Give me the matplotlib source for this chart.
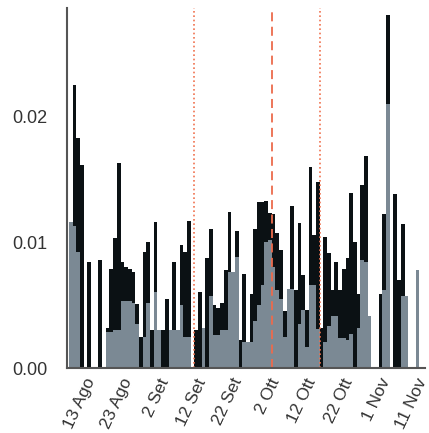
import pandas as pd
import matplotlib
matplotlib.use("Agg")
import matplotlib.pyplot as plt

plt.rcParams['font.family'] = ['Liberation Sans', 'DejaVu Sans']

# daily values, starting 7 Aug
start = "2020-08-07"
totale = [0.0116, 0.0225, 0.0183, 0.0161, 0, 0.0084, 0, 0, 0.0086, 0,
          0.0032, 0.0079, 0.0103, 0.0163, 0.0084, 0.0080, 0.0079, 0.0076, 0.0051, 0.0025,
          0.0092, 0.0100, 0.0030, 0.0116, 0.0030, 0.0030, 0.0055, 0.0030, 0.0084, 0.0030,
          0.0098, 0.0092, 0.0117, 0, 0.0030, 0.0060, 0.0032, 0.0087, 0.0110, 0.0050,
          0.0048, 0.0052, 0.0078, 0.0124, 0.0076, 0.0109, 0.0022, 0.0075, 0.0021, 0.0059,
          0.0110, 0.0132, 0.0132, 0.0133, 0.0123, 0.0122, 0.0107, 0.0094, 0.0045, 0.0063,
          0.0129, 0.0062, 0.0115, 0.0074, 0.0046, 0.0160, 0.0106, 0.0148, 0.0032, 0.0104,
          0.0091, 0.0062, 0.0084, 0.0062, 0.0079, 0.0087, 0.0139, 0.0100, 0.0059, 0.0145,
          0.0168, 0.0041, 0, 0, 0.0059, 0.0122, 0.0280, 0, 0.0138, 0.0070,
          0.0114, 0.0057, 0, 0, 0.0078]
parziale = [0.0116, 0.0113, 0.0092, 0, 0, 0, 0, 0, 0, 0,
            0.0029, 0.0029, 0.0030, 0.0030, 0.0053, 0.0053, 0.0053, 0.0052, 0.0035, 0,
            0.0025, 0.0052, 0, 0.0060, 0.0030, 0, 0, 0.0030, 0.0030, 0.0030,
            0.0050, 0.0025, 0.0025, 0, 0, 0, 0.0032, 0, 0.0057, 0.0026,
            0.0026, 0.0030, 0.0030, 0.0076, 0.0076, 0.0088, 0, 0.0021, 0.0021, 0.0021,
            0.0037, 0.0050, 0.0066, 0.0100, 0.0102, 0.0080, 0.0062, 0.0055, 0.0025, 0.0063,
            0.0063, 0, 0.0035, 0.0046, 0.0017, 0.0066, 0.0066, 0.0031, 0, 0.0021,
            0.0033, 0.0041, 0.0041, 0.0024, 0.0024, 0.0022, 0.0027, 0, 0.0032, 0.0086,
            0.0084, 0.0041, 0, 0, 0, 0.0062, 0.0210, 0, 0, 0,
            0.0057, 0.0057, 0, 0, 0.0078]

giorni = pd.date_range(start, periods=len(totale), freq="D")

linee_punti = ["2020-09-10", "2020-10-14"]
linea_tratteggio = "2020-10-01"

tick_date = pd.date_range("2020-08-13", "2020-11-11", freq="10D")
mesi = {8: "Ago", 9: "Set", 10: "Ott", 11: "Nov"}
tick_labels = [f"{d.day} {mesi[d.month]}" for d in tick_date]

fig = plt.figure(figsize=(4.29, 4.33), dpi=100)
ax = fig.add_axes([0.156, 0.150, 0.835, 0.832])

ax.bar(giorni, totale, width=1.0, align="edge", color="#0b1114", linewidth=0)
ax.bar(giorni, parziale, width=1.0, align="edge", color="#7b8994", linewidth=0)

for d in linee_punti:
    ax.axvline(pd.Timestamp(d), color="#f0724f", linestyle=(0, (1, 1.6)), linewidth=1.2)
ax.axvline(pd.Timestamp(linea_tratteggio), color="#ec6b4c", linestyle=(0, (5, 3)), linewidth=1.3)

ax.set_xlim(pd.Timestamp("2020-08-06 11:00"), pd.Timestamp("2020-11-11 14:00"))
ax.set_ylim(0, 0.0286)

ax.set_xticks(tick_date)
ax.set_xticklabels(tick_labels, rotation=65, ha="right", va="center",
                   rotation_mode="anchor", fontsize=12.5, color="#333333")
ax.set_yticks([0.0, 0.01, 0.02])
ax.set_yticklabels(["0.00", "0.01", "0.02"], fontsize=13, color="#333333")
ax.tick_params(axis="x", length=0, pad=8)
ax.tick_params(axis="y", length=0, pad=14)

for s in ["top", "right"]:
    ax.spines[s].set_visible(False)
for s in ["left", "bottom"]:
    ax.spines[s].set_color("#555555")
    ax.spines[s].set_linewidth(1.5)

fig.savefig("out.png", dpi=100)
